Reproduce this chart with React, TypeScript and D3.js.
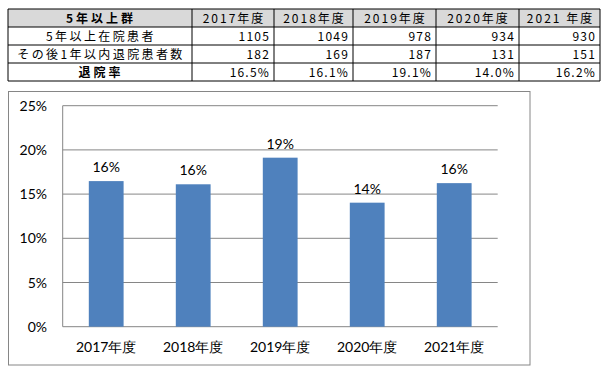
import React from "react";
import * as d3 from "d3";

const years = ["2017年度", "2018年度", "2019年度", "2020年度", "2021年度"];
const tableYears = ["2017年度", "2018年度", "2019年度", "2020年度", "2021 年度"];
const inpatients = [1105, 1049, 978, 934, 930];
const discharged = [182, 169, 187, 131, 151];
const rates = [0.1647, 0.1611, 0.1912, 0.1403, 0.1624];
const yTicks = [0, 0.05, 0.1, 0.15, 0.2, 0.25];
const rowLabels = ["5年以上群", "5年以上在院患者", "その後1年以内退院患者数", "退院率"];

const W = 612;
const H = 379;

export default function App() {
  // table geometry
  const colEdges = [8, 192, 274, 353, 436, 519, 600];
  const rowEdges = [9, 27, 45, 63, 81];
  const tFont = "'Noto Sans CJK JP', 'Noto Sans', sans-serif";
  const cFont = "Lato, 'Open Sans', sans-serif";

  // chart geometry
  const plot = { left: 62.7, right: 497.7, top: 105.7, bottom: 326.7 };
  const x = d3.scaleBand<string>().domain(years).range([plot.left, plot.right]).paddingInner(0.6).paddingOuter(0.3);
  const y = d3.scaleLinear().domain([0, 0.25]).range([plot.bottom, plot.top]);
  const pct0 = d3.format(".0%");
  const pct1 = d3.format(".1%");

  const rows: string[][] = [
    tableYears,
    inpatients.map(String),
    discharged.map(String),
    rates.map((r) => pct1(r)),
  ];

  return (
    <svg width={W} height={H} style={{ position: "absolute", left: 0, top: 0, background: "#fff" }}>
      {/* table */}
      <rect x={colEdges[0]} y={rowEdges[0]} width={colEdges[6] - colEdges[0]} height={rowEdges[1] - rowEdges[0]} fill="#d9d9d9" />
      {rowEdges.map((ry, i) => (
        <line key={"r" + i} x1={colEdges[0]} x2={colEdges[6]} y1={ry} y2={ry} stroke="#000" strokeWidth={1} />
      ))}
      {colEdges.map((cx, i) => (
        <line key={"c" + i} x1={cx} x2={cx} y1={rowEdges[0]} y2={rowEdges[4]} stroke="#000" strokeWidth={1} />
      ))}
      {rowLabels.map((lab, i) => (
        <text
          key={"rl" + i}
          x={(colEdges[0] + colEdges[1]) / 2 + 1}
          y={rowEdges[i] + 13.5}
          textAnchor="middle"
          fontFamily={tFont}
          fontSize={12}
          letterSpacing={i === 0 || i === 3 ? 3 : 2.4}
          fontWeight={i === 0 || i === 3 ? "bold" : "normal"}
          fill="#000"
        >
          {lab}
        </text>
      ))}
      {rows.map((row, ri) =>
        row.map((v, ci) => (
          <text
            key={"v" + ri + "-" + ci}
            x={ri === 0 ? (colEdges[ci + 1] + colEdges[ci + 2]) / 2 + 1 : colEdges[ci + 2] - 4}
            y={rowEdges[ri] + 13.5}
            textAnchor={ri === 0 ? "middle" : "end"}
            fontFamily={tFont}
            fontSize={12}
            letterSpacing={ri === 0 ? 2 : 1.2}
            fill="#000"
          >
            {v}
          </text>
        ))
      )}

      {/* chart frame */}
      <rect x={8.5} y={91.5} width={521.5} height={273.5} fill="#fff" stroke="#868686" strokeWidth={1} />

      {/* gridlines */}
      {yTicks.map((t) => (
        <line key={"g" + t} x1={plot.left} x2={plot.right} y1={y(t)} y2={y(t)} stroke="#868686" strokeWidth={1} />
      ))}
      <line x1={plot.left} x2={plot.left} y1={plot.top} y2={plot.bottom} stroke="#868686" strokeWidth={1} />
      {yTicks.map((t) => (
        <text key={"yl" + t} x={47} y={y(t) + 5} textAnchor="end" fontFamily={cFont} fontSize={14} fill="#000">
          {pct0(t)}
        </text>
      ))}

      {/* bars */}
      {years.map((yr, i) => (
        <g key={"b" + yr}>
          <rect x={x(yr)} y={y(rates[i])} width={x.bandwidth()} height={plot.bottom - y(rates[i])} fill="#4f81bd" />
          <text
            x={(x(yr) as number) + x.bandwidth() / 2}
            y={y(rates[i]) - 9}
            textAnchor="middle"
            fontFamily={cFont}
            fontSize={14}
            fill="#000"
          >
            {pct0(rates[i])}
          </text>
          <text
            x={(x(yr) as number) + x.bandwidth() / 2}
            y={352}
            textAnchor="middle"
            fontFamily={cFont}
            fontSize={14}
            fill="#000"
          >
            {yr}
          </text>
        </g>
      ))}
    </svg>
  );
}
